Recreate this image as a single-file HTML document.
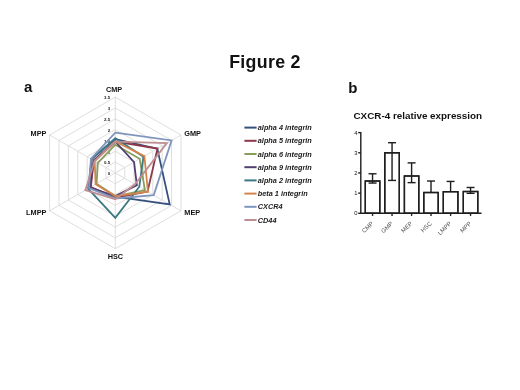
<!DOCTYPE html>
<html><head><meta charset="utf-8"><style>
html,body{margin:0;padding:0;background:#fff;}
body{width:520px;height:390px;overflow:hidden;}
svg{display:block;will-change:transform;}
text{font-family:"Liberation Sans",sans-serif;}
</style></head><body>
<svg width="520" height="390" viewBox="0 0 520 390">
<rect width="520" height="390" fill="#fff"/>

<text x="265" y="67.5" text-anchor="middle" font-size="17.8" letter-spacing="0.3" font-weight="bold" fill="#111">Figure 2</text>
<text x="24" y="92.4" font-size="15" font-weight="bold" fill="#111">a</text>
<text x="348.3" y="92.6" font-size="15" font-weight="bold" fill="#111">b</text>
<g fill="none" stroke="#dadada" stroke-width="0.9"><polygon points="115.30,162.07 124.68,167.49 124.68,178.31 115.30,183.73 105.92,178.31 105.92,167.49" /><polygon points="115.30,151.24 134.06,162.07 134.06,183.73 115.30,194.56 96.54,183.73 96.54,162.07" /><polygon points="115.30,140.41 143.44,156.66 143.44,189.15 115.30,205.39 87.16,189.15 87.16,156.66" /><polygon points="115.30,129.58 152.82,151.24 152.82,194.56 115.30,216.22 77.78,194.56 77.78,151.24" /><polygon points="115.30,118.75 162.20,145.83 162.20,199.97 115.30,227.05 68.40,199.97 68.40,145.83" /><polygon points="115.30,107.92 171.57,140.41 171.57,205.39 115.30,237.88 59.03,205.39 59.03,140.41" /><polygon points="115.30,97.09 180.95,135.00 180.95,210.81 115.30,248.71 49.65,210.81 49.65,135.00" /><line x1="115.3" y1="172.9" x2="115.30" y2="97.09" /><line x1="115.3" y1="172.9" x2="180.95" y2="135.00" /><line x1="115.3" y1="172.9" x2="180.95" y2="210.81" /><line x1="115.3" y1="172.9" x2="115.30" y2="248.71" /><line x1="115.3" y1="172.9" x2="49.65" y2="210.81" /><line x1="115.3" y1="172.9" x2="49.65" y2="135.00" /></g>
<g font-size="4.4" font-weight="bold" fill="#222"><text x="110.2" y="175.20" text-anchor="end">0</text><text x="110.2" y="164.37" text-anchor="end">0.5</text><text x="110.2" y="153.54" text-anchor="end">1</text><text x="110.2" y="142.71" text-anchor="end">1.5</text><text x="110.2" y="131.88" text-anchor="end">2</text><text x="110.2" y="121.05" text-anchor="end">2.5</text><text x="110.2" y="110.22" text-anchor="end">3</text><text x="110.2" y="99.39" text-anchor="end">3.5</text></g>
<g font-size="7.3" font-weight="bold" fill="#111"><text x="114.1" y="92.4" text-anchor="middle">CMP</text><text x="184.3" y="136.1">GMP</text><text x="184.3" y="215.2">MEP</text><text x="115.4" y="259.2" text-anchor="middle">HSC</text><text x="46.4" y="136.1" text-anchor="end">MPP</text><text x="46.4" y="215.4" text-anchor="end">LMPP</text></g>
<g fill="none" stroke-width="1.8" stroke-linejoin="miter"><polygon points="115.30,139.11 157.32,148.64 169.70,204.31 115.30,196.73 89.98,187.52 91.48,159.15" stroke="#35507c" /><polygon points="115.30,141.71 157.51,148.53 147.56,191.53 115.30,197.81 90.91,186.98 93.73,160.45" stroke="#8c3849" /><polygon points="115.30,144.74 139.69,158.82 144.94,190.01 115.30,196.29 96.54,183.73 97.85,162.83" stroke="#879d5c" /><polygon points="115.30,141.49 134.06,162.07 136.87,185.35 115.30,196.08 89.98,187.52 93.73,160.45" stroke="#523f72" /><polygon points="115.30,138.24 143.44,156.66 139.31,186.76 115.30,217.74 88.10,188.60 91.48,159.15" stroke="#3c7884" /><polygon points="115.30,141.49 144.38,156.11 147.94,191.74 115.30,196.08 95.60,184.27 94.67,160.99" stroke="#d4854c" /><polygon points="115.30,132.61 171.57,140.41 153.75,195.10 115.30,198.46 89.04,188.06 90.91,158.82" stroke="#7f95bd" /><polygon points="115.30,141.71 166.88,143.12 135.00,184.27 115.30,199.33 85.29,190.23 94.67,160.99" stroke="#bf8e92" /></g>
<g font-size="7.3" font-weight="bold" font-style="italic" fill="#1a1a1a"><line x1="244.4" y1="127.60" x2="256.6" y2="127.60" stroke="#35507c" stroke-width="2"/><text x="257.8" y="130.20">alpha 4 integrin</text><line x1="244.4" y1="140.80" x2="256.6" y2="140.80" stroke="#8c3849" stroke-width="2"/><text x="257.8" y="143.40">alpha 5 integrin</text><line x1="244.4" y1="154.00" x2="256.6" y2="154.00" stroke="#879d5c" stroke-width="2"/><text x="257.8" y="156.60">alpha 6 integrin</text><line x1="244.4" y1="167.20" x2="256.6" y2="167.20" stroke="#523f72" stroke-width="2"/><text x="257.8" y="169.80">alpha 9 integrin</text><line x1="244.4" y1="180.40" x2="256.6" y2="180.40" stroke="#3c7884" stroke-width="2"/><text x="257.8" y="183.00">alpha 2 integrin</text><line x1="244.4" y1="193.60" x2="256.6" y2="193.60" stroke="#d4854c" stroke-width="2"/><text x="257.8" y="196.20">beta 1 integrin</text><line x1="244.4" y1="206.80" x2="256.6" y2="206.80" stroke="#7f95bd" stroke-width="2"/><text x="257.8" y="209.40">CXCR4</text><line x1="244.4" y1="220.00" x2="256.6" y2="220.00" stroke="#bf8e92" stroke-width="2"/><text x="257.8" y="222.60">CD44</text></g>
<text x="353.5" y="118.8" font-size="9.85" font-weight="bold" fill="#111">CXCR-4 relative expression</text><g stroke="#1e1e1e" stroke-width="1.4" fill="none"><rect x="365.30" y="181.03" width="14.50" height="32.27" fill="#fff"/><line x1="372.55" y1="173.77" x2="372.55" y2="183.05"/><line x1="368.55" y1="173.77" x2="376.55" y2="173.77"/><line x1="368.55" y1="183.05" x2="376.55" y2="183.05"/><rect x="365.30" y="181.03" width="14.50" height="32.27" fill="none"/><line x1="372.55" y1="213.30" x2="372.55" y2="215.90"/><rect x="384.80" y="152.79" width="14.50" height="60.51" fill="#fff"/><line x1="392.05" y1="142.71" x2="392.05" y2="180.42"/><line x1="388.05" y1="142.71" x2="396.05" y2="142.71"/><line x1="388.05" y1="180.42" x2="396.05" y2="180.42"/><rect x="384.80" y="152.79" width="14.50" height="60.51" fill="none"/><line x1="392.05" y1="213.30" x2="392.05" y2="215.90"/><rect x="404.40" y="175.99" width="14.40" height="37.31" fill="#fff"/><line x1="411.60" y1="162.88" x2="411.60" y2="182.64"/><line x1="407.60" y1="162.88" x2="415.60" y2="162.88"/><line x1="407.60" y1="182.64" x2="415.60" y2="182.64"/><rect x="404.40" y="175.99" width="14.40" height="37.31" fill="none"/><line x1="411.60" y1="213.30" x2="411.60" y2="215.90"/><rect x="423.80" y="192.52" width="14.40" height="20.78" fill="#fff"/><line x1="431.00" y1="181.03" x2="431.00" y2="192.52"/><line x1="427.00" y1="181.03" x2="435.00" y2="181.03"/><rect x="423.80" y="192.52" width="14.40" height="20.78" fill="none"/><line x1="431.00" y1="213.30" x2="431.00" y2="215.90"/><rect x="443.30" y="191.72" width="14.60" height="21.58" fill="#fff"/><line x1="450.60" y1="181.43" x2="450.60" y2="191.72"/><line x1="446.60" y1="181.43" x2="454.60" y2="181.43"/><rect x="443.30" y="191.72" width="14.60" height="21.58" fill="none"/><line x1="450.60" y1="213.30" x2="450.60" y2="215.90"/><rect x="463.30" y="191.52" width="14.50" height="21.78" fill="#fff"/><line x1="470.55" y1="187.48" x2="470.55" y2="193.33"/><line x1="466.55" y1="187.48" x2="474.55" y2="187.48"/><line x1="466.55" y1="193.33" x2="474.55" y2="193.33"/><rect x="463.30" y="191.52" width="14.50" height="21.78" fill="none"/><line x1="470.55" y1="213.30" x2="470.55" y2="215.90"/><line x1="358.20" y1="213.30" x2="360.80" y2="213.30"/><line x1="358.20" y1="193.13" x2="360.80" y2="193.13"/><line x1="358.20" y1="172.96" x2="360.80" y2="172.96"/><line x1="358.20" y1="152.79" x2="360.80" y2="152.79"/><line x1="358.20" y1="132.62" x2="360.80" y2="132.62"/><line x1="360.80" y1="131.92" x2="360.80" y2="213.30"/><line x1="360.10" y1="213.30" x2="481.5" y2="213.30"/></g><g font-size="5.8" fill="#111"><text x="357.6" y="215.30" text-anchor="end">0</text><text x="357.6" y="195.13" text-anchor="end">1</text><text x="357.6" y="174.96" text-anchor="end">2</text><text x="357.6" y="154.79" text-anchor="end">3</text><text x="357.6" y="134.62" text-anchor="end">4</text></g><g font-size="6" fill="#555"><text transform="translate(373.75,223.90) rotate(-45)" text-anchor="end">CMP</text><text transform="translate(393.25,223.90) rotate(-45)" text-anchor="end">GMP</text><text transform="translate(412.80,223.90) rotate(-45)" text-anchor="end">MEP</text><text transform="translate(432.20,223.90) rotate(-45)" text-anchor="end">HSC</text><text transform="translate(451.80,223.90) rotate(-45)" text-anchor="end">LMPP</text><text transform="translate(471.75,223.90) rotate(-45)" text-anchor="end">MPP</text></g>
</svg></body></html>
